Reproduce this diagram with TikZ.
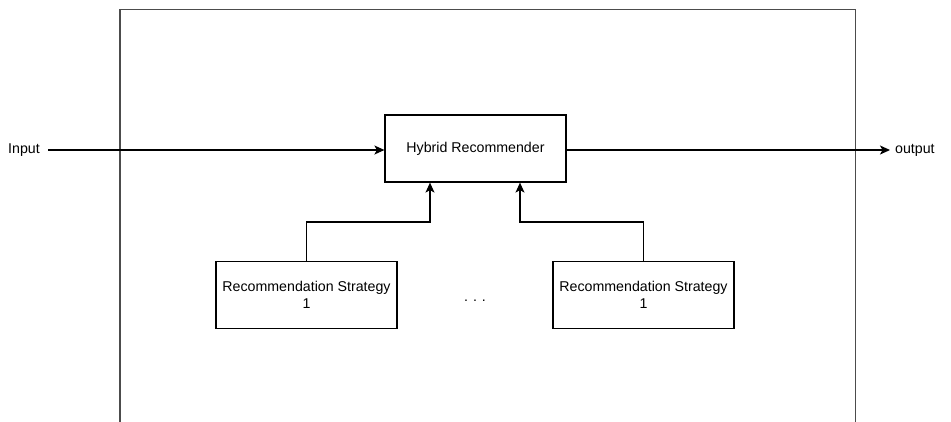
\documentclass[tikz,border=0pt]{standalone}
\usepackage{fontspec}
\setmainfont{Liberation Sans}
\usetikzlibrary{arrows.meta}
\begin{document}
\begin{tikzpicture}[x=1pt,y=-1pt,
  box/.style={draw, line width=1.2pt, minimum width=181pt, minimum height=67pt, align=center, inner sep=0pt, font=\fontsize{14.2}{17}\selectfont},
  lbl/.style={font=\fontsize{14.2}{17}\selectfont, inner sep=0pt},
  conn/.style={line width=1.2pt, -{Stealth[length=10pt,width=9pt,inset=2.5pt]}}]
\useasboundingbox (0,0) rectangle (951,421);
\draw[line width=1.3pt, draw=black!70] (120,430) -- (120,9.5) -- (855.5,9.5) -- (855.5,430);
\node[box] (hr) at (475.5,148.5) {Hybrid Recommender};
\node[box] (s1) at (306.5,295) {Recommendation Strategy\\1};
\node[box] (s2) at (643.5,295) {Recommendation Strategy\\1};
\node[lbl, anchor=west] (in) at (8,150) {Input};
\node[lbl, anchor=west] (out) at (895,150) {output};
\node[lbl] (dots) at (475,301) {.\hspace{5pt}.\hspace{5pt}.};
\coordinate (a1) at (430,222);
\coordinate (a2) at (520,222);
\draw[conn] (48,150) coordinate (inx) -- (hr.west |- inx);
\draw[conn] (hr.east |- out.west) -- (890,150);
\draw[conn] (s1.north) |- (a1) -- (hr.south -| a1);
\draw[conn] (s2.north) |- (a2) -- (hr.south -| a2);
\end{tikzpicture}
\end{document}
